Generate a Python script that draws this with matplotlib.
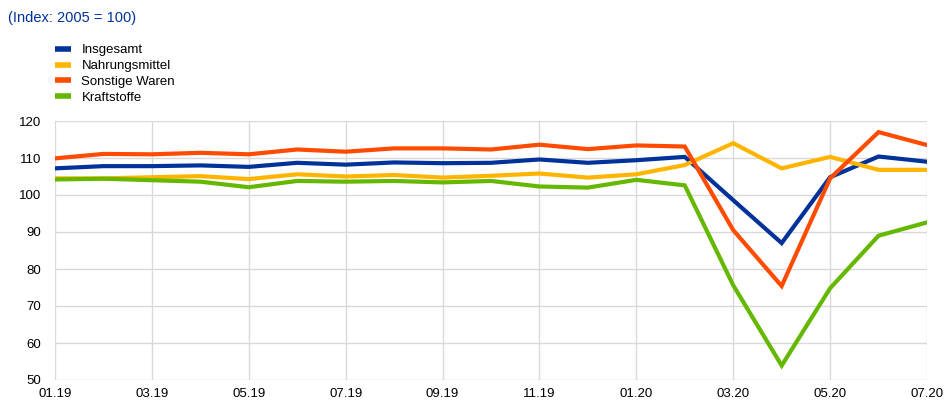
import matplotlib
matplotlib.use("Agg")
import matplotlib.pyplot as plt

plt.rcParams["font.family"] = ["Liberation Sans", "DejaVu Sans"]

# monthly index values, 01.19 .. 07.20
months = ["01.19", "02.19", "03.19", "04.19", "05.19", "06.19", "07.19", "08.19",
          "09.19", "10.19", "11.19", "12.19", "01.20", "02.20", "03.20", "04.20",
          "05.20", "06.20", "07.20"]
insgesamt = [107.2, 107.8, 107.8, 108.0, 107.6, 108.7, 108.2, 108.8, 108.6, 108.7,
             109.6, 108.7, 109.4, 110.3, 98.6, 87.0, 104.8, 110.4, 109.0]
nahrung = [104.5, 104.5, 104.8, 105.1, 104.3, 105.6, 105.0, 105.4, 104.7, 105.2,
           105.8, 104.7, 105.6, 108.1, 114.0, 107.2, 110.3, 106.8, 106.8]
sonstige = [109.9, 111.1, 111.0, 111.4, 111.0, 112.3, 111.7, 112.6, 112.6, 112.3,
            113.6, 112.4, 113.4, 113.1, 90.5, 75.4, 104.5, 117.0, 113.5]
kraftstoffe = [104.2, 104.4, 104.0, 103.6, 102.1, 103.8, 103.6, 103.8, 103.4, 103.8,
               102.3, 102.0, 104.1, 102.6, 75.6, 53.9, 74.8, 89.0, 92.6]

series = [
    ("Insgesamt", insgesamt, "#003299"),
    ("Nahrungsmittel", nahrung, "#FFB400"),
    ("Sonstige Waren", sonstige, "#FF4B00"),
    ("Kraftstoffe", kraftstoffe, "#65B800"),
]

fig = plt.figure(figsize=(9.44, 4.04), dpi=100)
ax = fig.add_axes([55 / 944, 1 - 380 / 404, 872 / 944, 259 / 404])

x = list(range(len(months)))
lines = []
for name, vals, col in series:
    ln, = ax.plot(x, vals, color=col, lw=3.0, label=name, solid_joinstyle="miter")
    lines.append(ln)

ax.set_xlim(0, len(months) - 1)
ax.set_ylim(50, 120)
ax.set_yticks(range(50, 121, 10))
ax.set_xticks(x[::2])
ax.set_xticklabels(months[::2])
ax.tick_params(length=0, labelsize=9.5, pad=6)
ax.tick_params(axis="y", pad=10)
ax.grid(True, color="#d9d9d9", lw=1.0)
ax.set_axisbelow(True)
for s in ax.spines.values():
    s.set_visible(False)

fig.text(8 / 944, 1 - 18 / 404, "(Index: 2005 = 100)", color="#003299",
         fontsize=10.5, va="center", ha="left")

leg = fig.legend(handles=lines, loc="upper left", bbox_to_anchor=(55 / 944, 1 - 44 / 404),
                 frameon=False, fontsize=9.5, handlelength=1.2, handletextpad=0.8,
                 labelspacing=0.28, borderaxespad=0, borderpad=0)
for h in leg.legend_handles:
    h.set_linewidth(4)
    h.set_solid_capstyle("butt")

fig.savefig("out.png", dpi=100)
